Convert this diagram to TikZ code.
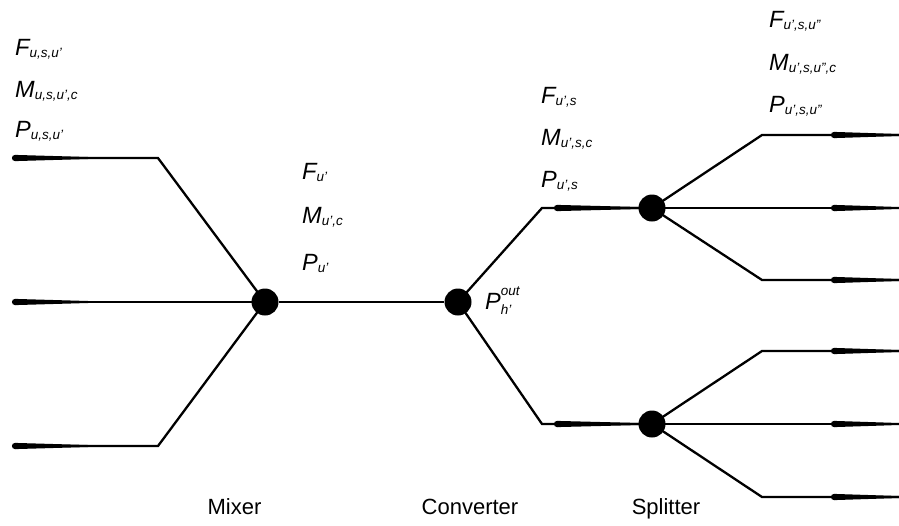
\documentclass[tikz,border=0pt]{standalone}
\usepackage{fontspec}
\setmainfont{Liberation Sans}
\newcommand\mainsz{\fontsize{23.5}{26}\selectfont}
\newcommand\idxsz{\fontsize{13.5}{16}\selectfont}
% quantity with an italic subscript
\newcommand\qsub[2]{{\mainsz\itshape #1}\raisebox{-2pt}{\idxsz\itshape #2}}
% quantity with superscript and subscript
\newcommand\qsupsub[3]{{\mainsz\itshape #1}\rlap{\raisebox{14pt}{\idxsz\itshape #2}}\raisebox{-5pt}{\idxsz\itshape #3}}
% tapered stream marker on a horizontal line, thick end at #1
\newcommand\taper[3]{\fill (#1,#3-3.1) -- (#2,#3-1) -- (#2,#3+1) -- (#1,#3+3.1) -- cycle;
  \fill (#1,#3) circle[radius=3.1];}
\begin{document}
\begin{tikzpicture}[x=1pt,y=-1pt,
  flow/.style={line width=2.3pt,line join=miter},
  unit/.style={circle,fill=black,minimum size=27pt,inner sep=0pt},
  lab/.style={anchor=base west,inner sep=0pt},
  unitcaption/.style={anchor=base,inner sep=0pt,font=\fontsize{22}{26}\selectfont}]
\useasboundingbox (0,0) rectangle (899,525);

% units
\node[unit] (mix) at (265,302) {};
\node[unit] (conv) at (458,302) {};
\node[unit] (spA) at (652,208) {};
\node[unit] (spB) at (652,424) {};

% stream end points and bends
\coordinate (in1) at (12,158);
\coordinate (in2) at (12,302);
\coordinate (in3) at (12,446);
\coordinate (b1) at (158,158);
\coordinate (b3) at (158,446);
\coordinate (cA) at (542,208);
\coordinate (cB) at (542,424);
\coordinate (dA1) at (762,135);
\coordinate (dA3) at (762,280);
\coordinate (dB1) at (762,351);
\coordinate (dB3) at (762,497);
\coordinate (oA1) at (899,135);
\coordinate (oA2) at (899,208);
\coordinate (oA3) at (899,280);
\coordinate (oB1) at (899,351);
\coordinate (oB2) at (899,424);
\coordinate (oB3) at (899,497);

% streams
\draw[flow] (in1) -- (b1) -- (mix.center);
\draw[flow] (in2) -- (mix.center);
\draw[flow] (in3) -- (b3) -- (mix.center);
\draw[flow] (mix) -- (conv);
\draw[flow] (conv.center) -- (cA) -- (spA.center);
\draw[flow] (conv.center) -- (cB) -- (spB.center);
\draw[flow] (spA.center) -- (dA1) -- (oA1);
\draw[flow] (spA.center) -- (oA2);
\draw[flow] (spA.center) -- (dA3) -- (oA3);
\draw[flow] (spB.center) -- (dB1) -- (oB1);
\draw[flow] (spB.center) -- (oB2);
\draw[flow] (spB.center) -- (dB3) -- (oB3);

% tapered markers
\taper{15}{88}{158}
\taper{15}{88}{302}
\taper{15}{88}{446}
\taper{557}{640}{208}
\taper{557}{640}{424}
\taper{834}{899}{135}
\taper{834}{899}{208}
\taper{834}{899}{280}
\taper{834}{899}{351}
\taper{834}{899}{424}
\taper{834}{899}{497}

% stream variables
\node[lab] (fin) at (15,55) {\qsub{F}{u,s,u'}};
\node[lab] (min) at (15,97) {\qsub{M}{u,s,u',c}};
\node[lab] (pin) at (15,137) {\qsub{P}{u,s,u'}};

\node[lab] (fmx) at (302,179) {\qsub{F}{u'}};
\node[lab] (mmx) at (302,223) {\qsub{M}{u',c}};
\node[lab] (pmx) at (302,270) {\qsub{P}{u'}};

\node[lab] (pout) at (485,309) {\qsupsub{P}{out}{h'}};

\node[lab] (fcv) at (541,103) {\qsub{F}{u',s}};
\node[lab] (mcv) at (541,145) {\qsub{M}{u',s,c}};
\node[lab] (pcv) at (541,187) {\qsub{P}{u',s}};

\node[lab] (fsp) at (769,27) {\qsub{F}{u',s,u''}};
\node[lab] (msp) at (769,70) {\qsub{M}{u',s,u'',c}};
\node[lab] (psp) at (769,112) {\qsub{P}{u',s,u''}};

% unit captions
\node[unitcaption] (tmix) at (234.5,514) {Mixer};
\node[unitcaption] (tconv) at (470,514) {Converter};
\node[unitcaption] (tsp) at (666,514) {Splitter};
\end{tikzpicture}
\end{document}
